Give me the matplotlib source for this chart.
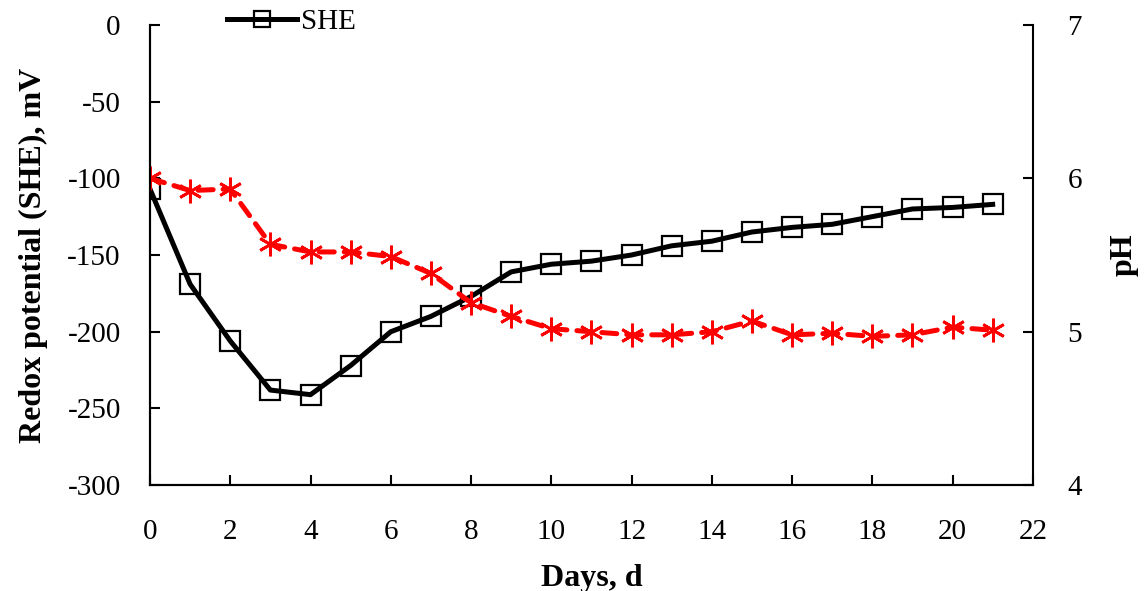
import numpy as np
import matplotlib.pyplot as plt

plt.rcParams['font.family'] = ['Liberation Serif', 'DejaVu Serif']
plt.rcParams['axes.unicode_minus'] = False

days = np.arange(0, 22)
she = [-107, -169, -206, -238, -241, -222, -200, -190, -177, -161, -156,
       -154, -150, -144, -141, -135, -132, -130, -125, -120, -119, -117]
ph = [6.00, 5.92, 5.93, 5.57, 5.52, 5.52, 5.49, 5.38, 5.19, 5.10, 5.02,
      5.00, 4.98, 4.98, 5.00, 5.07, 4.98, 4.99, 4.97, 4.98, 5.03, 5.01]

fig = plt.figure(figsize=(11.45, 5.91), dpi=100)
ax = fig.add_axes([0.131, 0.179, 0.771, 0.779])
ax2 = ax.twinx()

ax.plot(days, she, color='black', lw=3.6, marker='s', ms=14,
        mfc='none', mec='black', mew=1.6, label='SHE')
ax2.plot(days, ph, color='red', lw=3.6, ls=(0, (3, 2)), dash_capstyle='round',
         marker=(6, 2, 0), ms=17, mec='red', mew=2)

ax.set_xlim(0, 22)
ax.set_ylim(-300, 0)
ax2.set_ylim(4, 7)
ax.set_xticks(np.arange(0, 23, 2))
ax.set_yticks(np.arange(-300, 1, 50))
ax2.set_yticks([4, 5, 6, 7])

for a in (ax, ax2):
    a.spines['top'].set_visible(False)
    for s in a.spines.values():
        s.set_linewidth(1.5)
ax.spines['right'].set_visible(False)
ax.tick_params(direction='in', length=7, width=1.5, labelsize=21)
ax.tick_params(axis='y', pad=21)
ax.tick_params(axis='x', pad=24)
ax2.tick_params(direction='in', length=7, width=1.5, labelsize=21, pad=25)

ax.set_xlabel('Days, d', fontsize=23, fontweight='bold', labelpad=14)
ax.set_ylabel('Redox potential (SHE), mV', fontsize=23, fontweight='bold', labelpad=14)
ax2.set_ylabel('pH', fontsize=23, fontweight='bold', labelpad=20)

ax.legend(loc='center left', bbox_to_anchor=(0.1855, 0.963), bbox_transform=fig.transFigure,
          frameon=False, fontsize=21, handlelength=2.4, handletextpad=0.15, borderpad=0,
          markerscale=0.8)

fig.savefig('out.png', dpi=100)
